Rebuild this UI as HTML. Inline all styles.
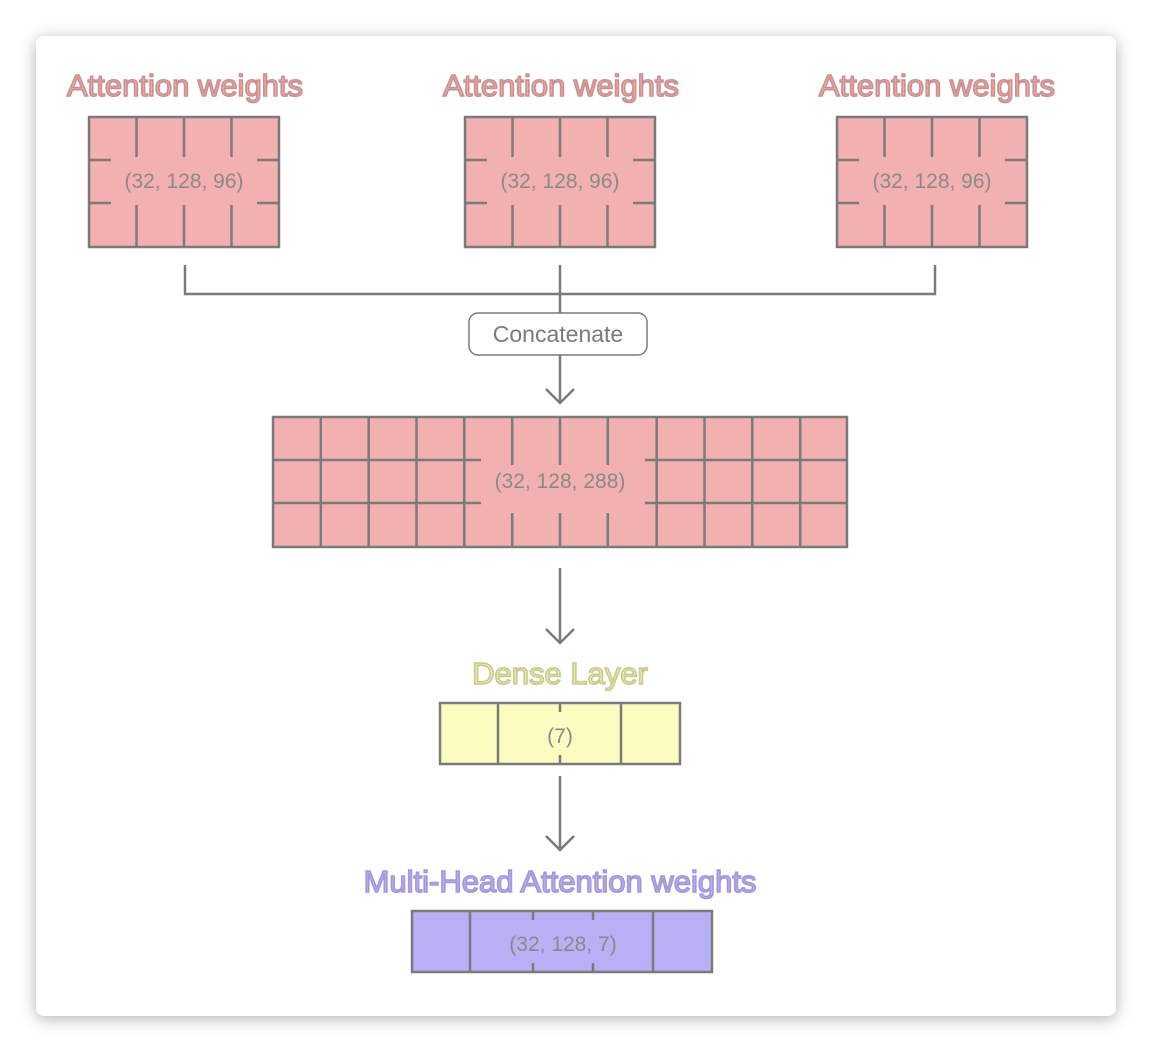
<!DOCTYPE html>
<html><head><style>
html,body{margin:0;padding:0;background:#fff;}
.card{position:absolute;left:36px;top:36px;width:1080px;height:980px;background:#fff;border-radius:8px;box-shadow:0 3px 16px rgba(0,0,0,0.3);}
svg{position:absolute;left:0;top:0;}
text{font-family:"Liberation Sans",sans-serif;}
.t{font-size:31px;font-weight:normal;stroke-width:1.6px;}
.d{font-size:21px;fill:#8a8a8a;}
</style></head><body>
<div class="card"></div>
<svg width="1152" height="1052" viewBox="0 0 1152 1052">
<g stroke="#7a7a7a" stroke-width="2.5" fill="none">
 <g id="b1">
  <rect x="89" y="117" width="190" height="130" fill="#f2b0b0"/>
  <path d="M136.5 117V157M184 117V157M231.5 117V157M136.5 205V247M184 205V247M231.5 205V247M89 160H111M257 160H279M89 203H111M257 203H279"/>
 </g>
 <use href="#b1" x="376"/>
 <use href="#b1" x="748"/>
 <path d="M185 265V294H935V265M560 265V313M560 355V403M546 389L560 403L574 389"/>
 <rect x="469" y="313" width="178" height="42" rx="9" fill="#fff" stroke-width="1.5"/>
 <rect x="273" y="417" width="574" height="130" fill="#f2b0b0"/>
 <path d="M320.8 417V547M368.7 417V547M416.5 417V547M464.3 417V547M656.7 417V547M704.5 417V547M752.3 417V547M800.2 417V547
 M512.2 417V465M560 417V465M607.8 417V465M512.2 513V547M560 513V547M607.8 513V547
 M273 460H481M645 460H847M273 503H481M645 503H847"/>
 <path d="M560 568V643M546 629L560 643L574 629"/>
 <rect x="440" y="703" width="240" height="61" fill="#fcfcc0"/>
 <path d="M498 703V764M621 703V764M560 703V712M560 755V764"/>
 <path d="M560 776V850M546 836L560 850L574 836"/>
 <rect x="412" y="911" width="300" height="61" fill="#b8b0f4"/>
 <path d="M470 911V972M653 911V972M533 911V920M593 911V920M533 963V972M593 963V972"/>
</g>
<g text-anchor="middle">
 <text class="t" x="185" y="96" fill="#f0a8a8" stroke="#c89090">Attention weights</text>
 <text class="t" x="561" y="96" fill="#f0a8a8" stroke="#c89090">Attention weights</text>
 <text class="t" x="937" y="96" fill="#f0a8a8" stroke="#c89090">Attention weights</text>
 <text class="d" x="184" y="188">(32, 128, 96)</text>
 <text class="d" x="560" y="188">(32, 128, 96)</text>
 <text class="d" x="932" y="188">(32, 128, 96)</text>
 <text x="558" y="342" font-size="23" fill="#7a7a7a">Concatenate</text>
 <text class="d" x="560" y="488">(32, 128, 288)</text>
 <text class="t" x="560" y="684" fill="#f3f0a8" stroke="#c8c890">Dense Layer</text>
 <text class="d" x="560" y="743">(7)</text>
 <text class="t" x="560" y="892" fill="#b8b0f4" stroke="#a098d8">Multi-Head Attention weights</text>
 <text class="d" x="563" y="951">(32, 128, 7)</text>
</g>
</svg>
</body></html>
